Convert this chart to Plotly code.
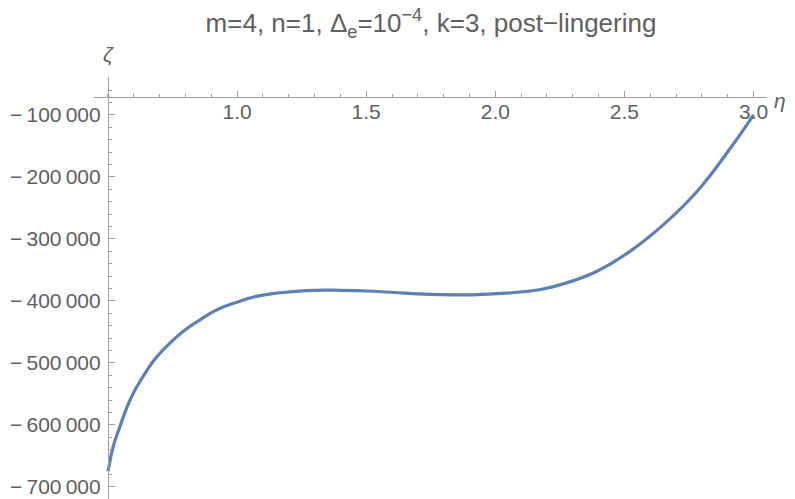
import plotly.graph_objects as go

# data
eta = [0.5, 0.521, 0.547, 0.573, 0.599, 0.637, 0.676, 0.728, 0.792, 0.857, 0.921, 0.986,
       1.089, 1.27, 1.4, 1.53, 1.65, 1.78, 1.91, 2.04, 2.17, 2.26, 2.39, 2.52,
       2.65, 2.78, 2.905, 3.0]
zeta = [-675000, -634000, -602000, -572000, -548000, -521500, -497000, -473000, -449000,
        -430500, -414500, -404000, -391500, -383500, -383000, -384500, -387500,
        -389800, -390300, -387600, -382000, -373000, -353000, -320500, -277500, -224000,
        -156800, -100000]

x_ticks = [1.0, 1.5, 2.0, 2.5, 3.0]
x_ticklabels = ["1.0", "1.5", "2.0", "2.5", "3.0"]
y_ticks = [-700000, -600000, -500000, -400000, -300000, -200000, -100000]
y_ticklabels = ["\u2212\u2009700\u2009000", "\u2212\u2009600\u2009000", "\u2212\u2009500\u2009000",
                "\u2212\u2009400\u2009000", "\u2212\u2009300\u2009000", "\u2212\u2009200\u2009000",
                "\u2212\u2009100\u2009000"]

xmin, xmax = 0.446, 3.052
ymin, ymax = -719500, -39000
x_cross = 0.5
y_cross = -72000

axis_col = "#a0a0a0"
text_col = "#606060"
font = "Liberation Sans, Arial, sans-serif"

fig = go.Figure()
fig.add_trace(go.Scatter(x=eta, y=zeta, mode="lines",
                         line=dict(color="#5E81B5", width=3.2, shape="spline", smoothing=1.2),
                         showlegend=False, hoverinfo="skip"))

fig.update_layout(
    width=795, height=499,
    margin=dict(l=86, r=36, t=69, b=8, autoexpand=False),
    paper_bgcolor="white", plot_bgcolor="white",
    title=dict(text="m=4, n=1, \u0394<sub>e</sub>=10<sup>\u22124</sup>, k=3, post\u2212lingering",
               x=423 / 795, xref="container", xanchor="center",
               y=1 - 15 / 499, yref="container", yanchor="middle",
               font=dict(family=font, size=26, color=text_col)),
    font=dict(family=font, color=text_col),
    xaxis=dict(range=[xmin, xmax], anchor="free", automargin=False,
               position=(y_cross - ymin) / (ymax - ymin),
               showgrid=False, zeroline=False, showline=True, linecolor=axis_col, linewidth=1,
               tickmode="array", tickvals=x_ticks, ticktext=x_ticklabels,
               ticks="inside", ticklen=6, tickcolor=axis_col, tickwidth=1,
               ticklabelstandoff=-5,
               tickfont=dict(size=21, color=text_col),
               minor=dict(tickmode="linear", tick0=0, dtick=0.1, ticks="inside",
                          ticklen=3, tickcolor=axis_col, showgrid=False)),
    yaxis=dict(range=[ymin, ymax], anchor="free", automargin=False,
               position=(x_cross - xmin) / (xmax - xmin),
               showgrid=False, zeroline=False, showline=True, linecolor=axis_col, linewidth=1,
               tickmode="array", tickvals=y_ticks, ticktext=y_ticklabels,
               ticks="inside", ticklen=6, tickcolor=axis_col, tickwidth=1,
               ticklabelstandoff=3,
               tickfont=dict(size=21, color=text_col),
               minor=dict(tickmode="linear", tick0=0, dtick=20000, ticks="inside",
                          ticklen=3, tickcolor=axis_col, showgrid=False)),
)

fig.add_annotation(text="<i>\u03b6</i>", xref="paper", yref="paper",
                   x=(x_cross - xmin) / (xmax - xmin), y=1.0, xshift=-7, yshift=36,
                   showarrow=False, font=dict(family=font, size=21, color=text_col))
fig.add_annotation(text="<i>\u03b7</i>", xref="paper", yref="paper",
                   x=1.0, xshift=21, y=(y_cross - ymin) / (ymax - ymin), yshift=10,
                   showarrow=False, font=dict(family=font, size=21, color=text_col))

fig.write_html("out.html")
